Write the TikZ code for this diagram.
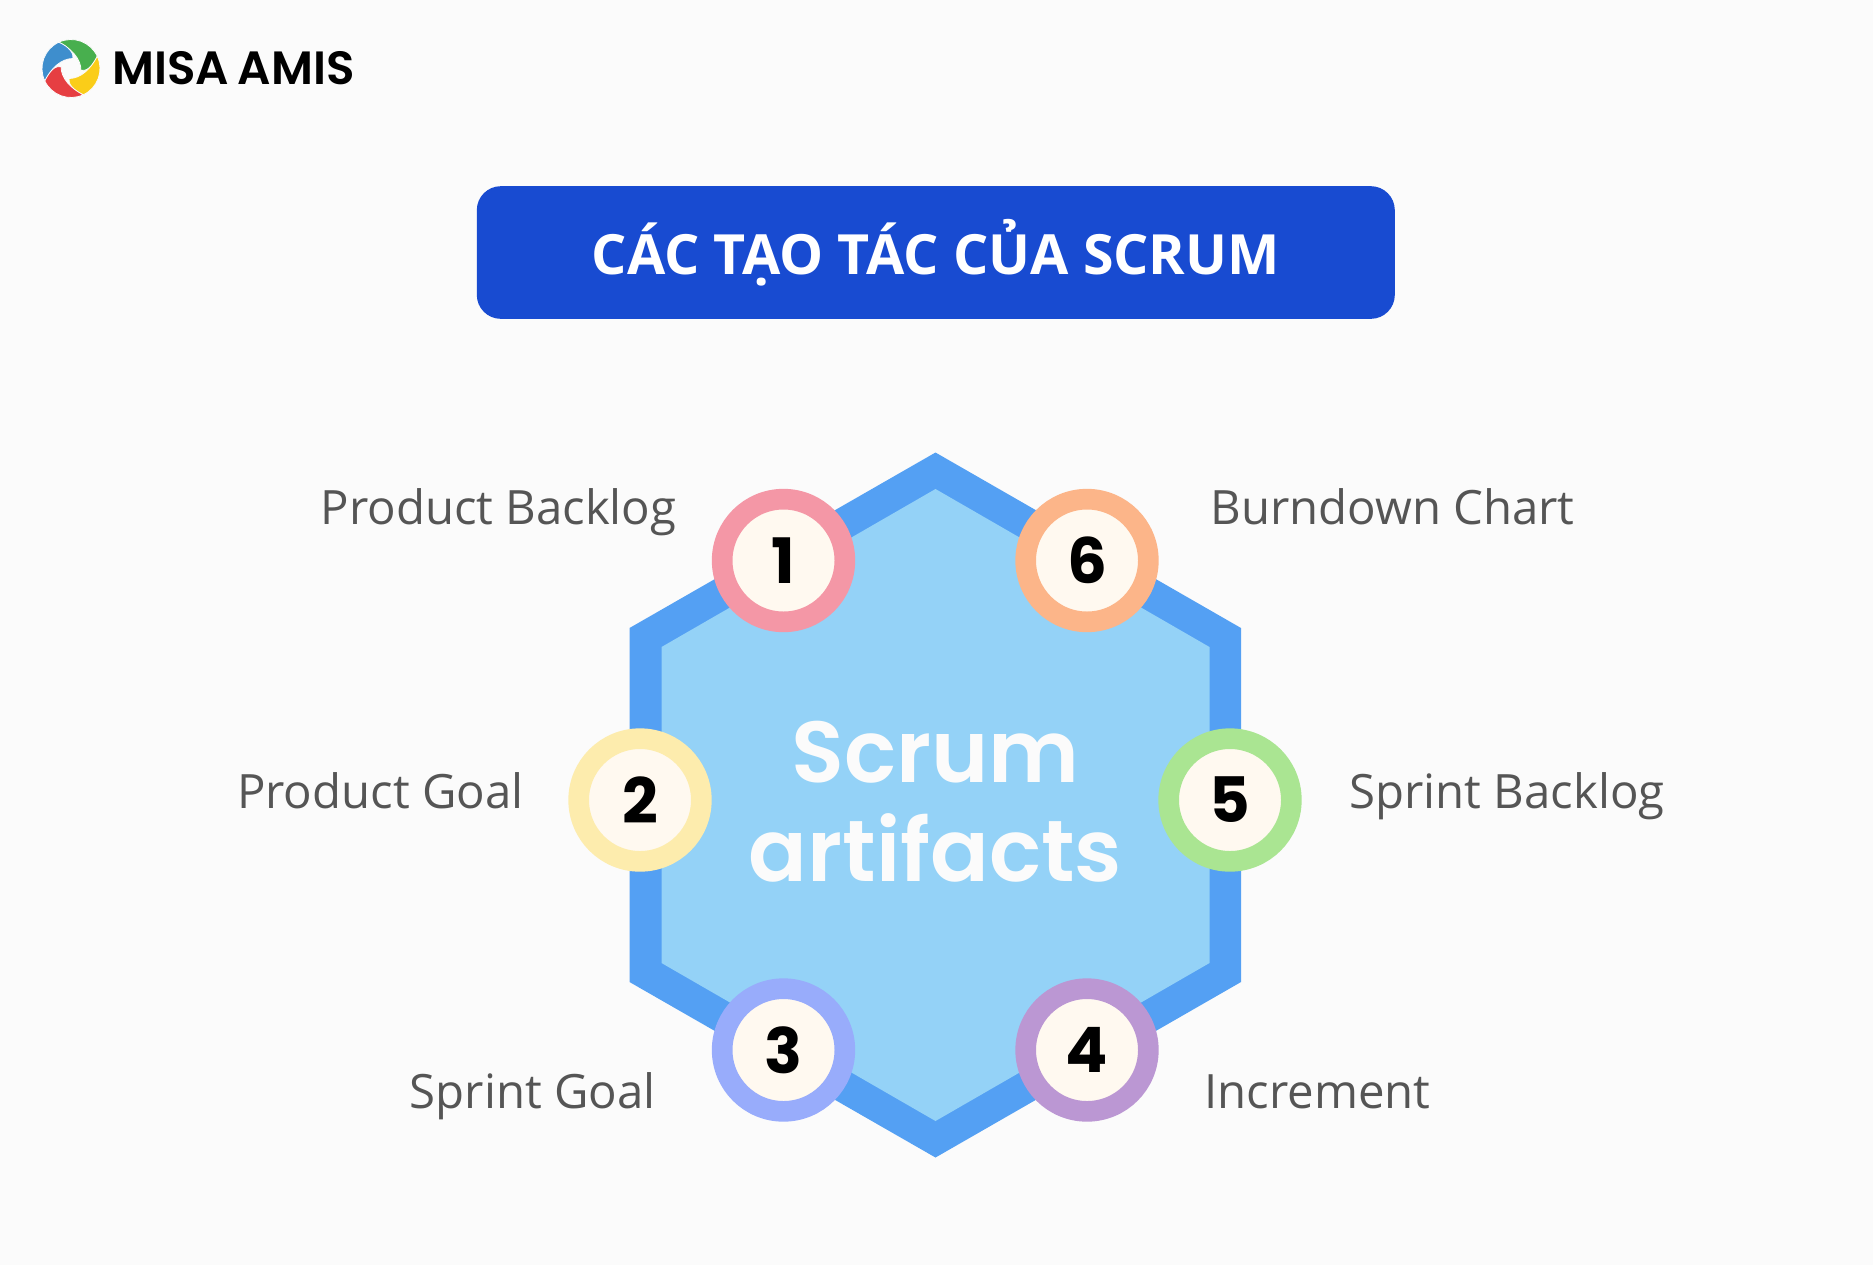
\documentclass[tikz,border=0pt]{standalone}
\usepackage{fontspec}
\setmainfont{Open Sans}
\newfontfamily\logofont{Poppins SemiBold}
\newfontfamily\headfont{Poppins}
\usetikzlibrary{positioning}
\definecolor{pagebg}{RGB}{251,251,251}
\definecolor{titleblue}{RGB}{24,75,209}
\definecolor{hexedge}{RGB}{84,160,243}
\definecolor{hexfill}{RGB}{148,210,247}
\definecolor{labelgrey}{RGB}{85,85,85}
\definecolor{discfill}{RGB}{255,249,240}
\definecolor{ringa}{RGB}{244,151,166}
\definecolor{ringb}{RGB}{253,236,173}
\definecolor{ringc}{RGB}{152,172,251}
\definecolor{ringd}{RGB}{187,151,211}
\definecolor{ringe}{RGB}{170,229,146}
\definecolor{ringf}{RGB}{252,181,137}
\definecolor{logogreen}{RGB}{72,175,78}
\definecolor{logoyellow}{RGB}{250,205,25}
\definecolor{logored}{RGB}{230,62,66}
\definecolor{logoblue}{RGB}{62,142,205}
\tikzset{every picture/.style={line width=0.75pt}}
\tikzset{
  numdisc/.style={circle,draw=#1,line width=15.5pt,fill=discfill,minimum size=92pt,inner sep=0pt,font=\headfont\bfseries\fontsize{47}{47}\selectfont,text=black},
  itemlabel/.style={text=labelgrey,inner sep=0pt,font=\fontsize{35.5}{42}\selectfont}
}
\begin{document}
\begin{tikzpicture}[x=0.75pt,y=0.75pt,yscale=-1,xscale=1]
        \useasboundingbox (0,0) rectangle (1873,1265);
        \fill [pagebg] (0,0) rectangle (1873,1265);
        % logo
        \foreach \ang/\col in {0/logogreen,90/logoyellow,180/logored,270/logoblue}
          \filldraw [fill=\col,draw=pagebg,line width=0.6pt,shift={(71,68.5)},rotate=\ang]
            (-115:29) arc (-115:-25:29) .. controls (22,-2) and (15,3) .. (10,2) .. controls (10,-10) and (0,-20) .. cycle;
        \node (brand) [anchor=west,inner sep=0pt,text=black,font=\logofont\fontsize{35}{35}\selectfont] at (112,68) {MISA\hspace{-2pt} AMIS};
        % title
        \node (title) [fill=titleblue,rounded corners=18pt,minimum width=688.5pt,minimum height=99.5pt,inner sep=0pt,text=white,font=\bfseries\fontsize{41.6}{41.6}\selectfont] at (935.8,252.5) {\raisebox{8pt}{CÁC TẠO TÁC CỦA SCRUM}\hspace{7.2pt}};
        % hexagon
        \fill [hexedge] (935.5,452.5) -- (1241,628) -- (1241,982) -- (935.5,1157.5) -- (629.5,982) -- (629.5,628) -- cycle;
        \fill [hexfill] (935.5,489) -- (1209.5,647) -- (1209.5,963) -- (935.5,1121) -- (661.5,963) -- (661.5,647) -- cycle;
        \node (centre) [align=center,inner sep=0pt,text=pagebg,font=\logofont\fontsize{65}{74.4}\selectfont] at (935.5,802) {Scrum\\artifacts};
        % numbered rings
        \node (one) [numdisc=ringa] at (783.5,560.5) {1};
        \node (two) [numdisc=ringb] at (640,800) {2};
        \node (three) [numdisc=ringc] at (783.5,1050) {3};
        \node (four) [numdisc=ringd] at (1087,1050) {4};
        \node (five) [numdisc=ringe] at (1230,800) {5};
        \node (six) [numdisc=ringf] at (1087,560.5) {6};
        % labels
        \node (backlog) [itemlabel,anchor=base east] at (677,524) {Product Backlog};
        \node (goal) [itemlabel,anchor=base east] at (524,808.5) {Product Goal};
        \node (sprintgoal) [itemlabel,anchor=base east] at (656,1108) {Sprint Goal};
        \node (increment) [itemlabel,anchor=base west] at (1204,1108) {Increment};
        \node (sprintlog) [itemlabel,anchor=base west] at (1349,808.5) {Sprint Backlog};
        \node (burndown) [itemlabel,anchor=base west] at (1210,524) {Burndown Chart};
\end{tikzpicture}
\end{document}
